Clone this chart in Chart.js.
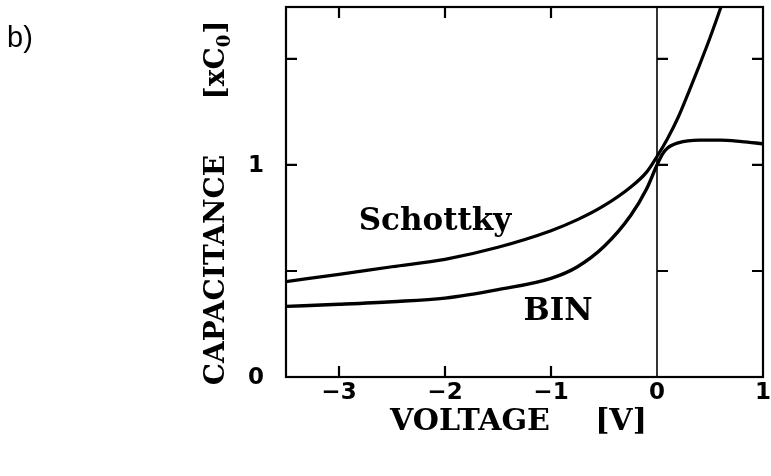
<!DOCTYPE html>
<html>
<head>
<meta charset="utf-8">
<script src="https://cdn.jsdelivr.net/npm/chart.js@4.4.1/dist/chart.umd.min.js"></script>
<style>
  html, body { margin: 0; padding: 0; background: #fff; }
  #wrap { width: 771px; height: 476px; position: relative; }
</style>
</head>
<body>
<div id="wrap"><canvas id="cv" width="771" height="476"></canvas></div>
<script>
// C-V curves, capacitance in units of C0
const schottkyV = [-3.5, -3, -2.5, -2, -1.5, -1, -0.75, -0.5, -0.25, -0.1, 0, 0.1, 0.2, 0.3, 0.4, 0.5, 0.6, 0.65];
const schottkyC = [0.45, 0.484, 0.52, 0.555, 0.612, 0.69, 0.742, 0.808, 0.895, 0.965, 1.04, 1.125, 1.225, 1.345, 1.47, 1.6, 1.74, 1.815];

const binV = [-3.5, -3, -2.5, -2, -1.5, -1, -0.75, -0.5, -0.25, -0.1, 0, 0.05, 0.1, 0.2, 0.4, 0.6, 0.8, 1];
const binC = [0.333, 0.343, 0.355, 0.372, 0.412, 0.465, 0.52, 0.615, 0.76, 0.885, 1.0, 1.05, 1.08, 1.104, 1.117, 1.117, 1.11, 1.1];

const xTicks = [-3, -2, -1, 0, 1];
const yTicks = [0.5, 1, 1.5];
const yLabels = [0, 1];

const serif = '"DejaVu Serif", serif';
const sans = '"DejaVu Sans", sans-serif';

function pairs(xs, ys) {
    return xs.map((x, i) => ({ x: x, y: ys[i] }));
}

// frame, inward ticks, the V=0 line and all text
const framePlugin = {
    id: 'frame',
    afterDatasetsDraw(chart) {
        const ctx = chart.ctx;
        const a = chart.chartArea;
        const xs = chart.scales.x;
        const ys = chart.scales.y;
        const t = 11;
        ctx.save();
        ctx.strokeStyle = '#000';
        ctx.lineCap = 'butt';

        // zero voltage line
        const x0 = xs.getPixelForValue(0);
        ctx.lineWidth = 1.6;
        ctx.beginPath();
        ctx.moveTo(x0, a.top);
        ctx.lineTo(x0, a.bottom);
        ctx.stroke();

        ctx.lineWidth = 2.2;
        ctx.strokeRect(a.left, a.top, a.right - a.left, a.bottom - a.top);

        ctx.beginPath();
        xTicks.forEach(v => {
            if (v === 0 || v === 1) return;
            const px = xs.getPixelForValue(v);
            ctx.moveTo(px, a.bottom); ctx.lineTo(px, a.bottom - t);
            ctx.moveTo(px, a.top); ctx.lineTo(px, a.top + t);
        });
        yTicks.forEach(v => {
            const py = ys.getPixelForValue(v);
            ctx.moveTo(a.left, py); ctx.lineTo(a.left + t, py);
            ctx.moveTo(a.right, py); ctx.lineTo(a.right - t, py);
            ctx.moveTo(x0, py); ctx.lineTo(x0 + t, py);
        });
        ctx.stroke();

        ctx.fillStyle = '#000';
        ctx.textAlign = 'center';
        ctx.textBaseline = 'middle';

        // tick labels
        ctx.font = 'bold 23px ' + sans;
        xTicks.forEach(v => {
            const label = v < 0 ? '\u2212' + Math.abs(v) : String(v);
            ctx.fillText(label, xs.getPixelForValue(v), a.bottom + 16);
        });
        yLabels.forEach(v => {
            ctx.fillText(String(v), a.left - 30, ys.getPixelForValue(v) + 1);
        });

        // axis titles
        ctx.font = 'bold 30px ' + serif;
        ctx.fillText('VOLTAGE', 470, 422);
        ctx.fillText('[V]', 621, 422);

        ctx.save();
        ctx.translate(217, 0);
        ctx.rotate(-Math.PI / 2);
        ctx.font = 'bold 28px ' + serif;
        ctx.fillText('CAPACITANCE', -270, 0);
        ctx.textAlign = 'left';
        const wa = ctx.measureText('[xC').width;
        const wb = ctx.measureText(']').width;
        ctx.font = 'bold 18px ' + serif;
        const ws = ctx.measureText('0').width + 1;
        const start = -60 - (wa + ws + wb) / 2;
        ctx.fillText('0', start + wa, 8);
        ctx.font = 'bold 28px ' + serif;
        ctx.fillText('[xC', start, 0);
        ctx.fillText(']', start + wa + ws, 0);
        ctx.restore();

        // curve names
        ctx.font = 'bold 31px ' + serif;
        ctx.fillText('Schottky', 435, 222);
        ctx.fillText('BIN', 558, 312);

        ctx.font = '29px "Liberation Sans", Arial, sans-serif';
        ctx.textAlign = 'left';
        ctx.fillText('b)', 7, 39);
        ctx.restore();
    }
};

new Chart(document.getElementById('cv'), {
    type: 'scatter',
    data: {
        datasets: [
            {
                label: 'Schottky',
                data: pairs(schottkyV, schottkyC),
                showLine: true,
                borderColor: '#000',
                borderWidth: 3.2,
                pointRadius: 0,
                cubicInterpolationMode: 'monotone'
            },
            {
                label: 'BIN',
                data: pairs(binV, binC),
                showLine: true,
                borderColor: '#000',
                borderWidth: 3.4,
                pointRadius: 0,
                cubicInterpolationMode: 'monotone'
            }
        ]
    },
    options: {
        responsive: false,
        animation: false,
        layout: { padding: { left: 286, top: 7, right: 8, bottom: 99 } },
        plugins: {
            legend: { display: false },
            tooltip: { enabled: false }
        },
        scales: {
            x: { type: 'linear', min: -3.5, max: 1, display: false },
            y: { type: 'linear', min: 0, max: 1.745, display: false }
        }
    },
    plugins: [framePlugin]
});
</script>
</body>
</html>
